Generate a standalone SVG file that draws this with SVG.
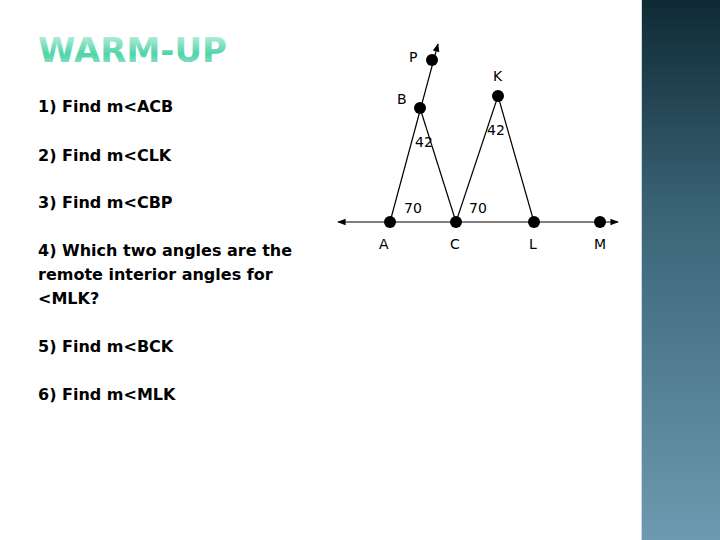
<svg xmlns="http://www.w3.org/2000/svg" width="720" height="540" viewBox="0 0 720 540">
<defs>
<linearGradient id="side" x1="0" y1="0" x2="0" y2="1"><stop offset="0" stop-color="#0f2a35"/><stop offset="0.4" stop-color="#3b6577"/><stop offset="1" stop-color="#6d9ab0"/></linearGradient>
<linearGradient id="title" x1="0" y1="0" x2="0" y2="1"><stop offset="0" stop-color="#d6f5ea"/><stop offset="0.6" stop-color="#4fd3a8"/><stop offset="1" stop-color="#a8ead4"/></linearGradient>
<marker id="arr" viewBox="0 0 10 10" refX="9" refY="5" markerWidth="7" markerHeight="7" orient="auto-start-reverse"><path d="M0,1 L10,5 L0,9 z" fill="#000"/></marker>
<style>
.q{font-family:"DejaVu Sans",sans-serif;font-weight:bold;font-size:16px;fill:#000}
.l{font-family:"DejaVu Sans",sans-serif;font-size:14px;fill:#000}
.ln{stroke:#000;stroke-width:1.2;fill:none}
</style>
</defs>
<rect width="720" height="540" fill="#fff"/>
<rect x="641" y="0" width="79" height="540" fill="url(#side)"/>
<line x1="641.5" y1="0" x2="641.5" y2="540" stroke="#c8d8e0" stroke-width="1"/>
<text x="38" y="62" font-family="DejaVu Sans,sans-serif" font-weight="bold" font-size="34" fill="url(#title)">WARM-UP</text>
<g id="questions">
<text class="q" x="38" y="112">1) Find m&lt;ACB</text>
<text class="q" x="38" y="161">2) Find m&lt;CLK</text>
<text class="q" x="38" y="208">3) Find m&lt;CBP</text>
<text class="q" x="38" y="256">4) Which two angles are the</text>
<text class="q" x="38" y="280">remote interior angles for</text>
<text class="q" x="38" y="304">&lt;MLK?</text>
<text class="q" x="38" y="352">5) Find m&lt;BCK</text>
<text class="q" x="38" y="400">6) Find m&lt;MLK</text>
</g>
<g id="connectors">
<line class="ln" x1="338" y1="222" x2="618" y2="222" marker-start="url(#arr)" marker-end="url(#arr)"/>
<line class="ln" x1="390" y1="222" x2="438" y2="44" marker-end="url(#arr)"/>
<line class="ln" x1="420" y1="108" x2="456" y2="222"/>
<line class="ln" x1="456" y1="222" x2="498" y2="96"/>
<line class="ln" x1="498" y1="96" x2="534" y2="222"/>
</g>
<g id="A"><circle cx="390" cy="222" r="6"/><text class="l" x="379" y="249">A</text></g>
<g id="C"><circle cx="456" cy="222" r="6"/><text class="l" x="450" y="249">C</text></g>
<g id="L"><circle cx="534" cy="222" r="6"/><text class="l" x="529" y="249">L</text></g>
<g id="M"><circle cx="600" cy="222" r="6"/><text class="l" x="594" y="249">M</text></g>
<g id="B"><circle cx="420" cy="108" r="6"/><text class="l" x="397" y="104">B</text></g>
<g id="P"><circle cx="432" cy="60" r="6"/><text class="l" x="409" y="62">P</text></g>
<g id="K"><circle cx="498" cy="96" r="6"/><text class="l" x="493" y="81">K</text></g>
<g id="angles">
<text class="l" x="415" y="147">42</text>
<text class="l" x="487" y="135">42</text>
<text class="l" x="404" y="213">70</text>
<text class="l" x="469" y="213">70</text>
</g>
</svg>
